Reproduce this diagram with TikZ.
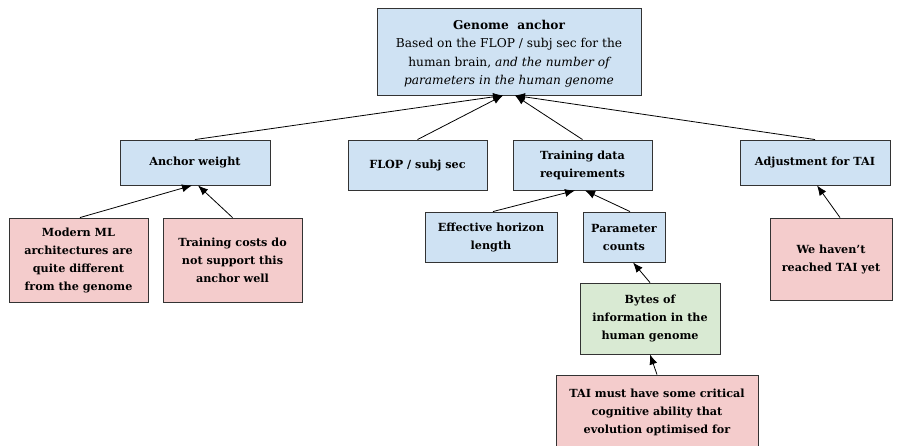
\documentclass[tikz,border=0pt]{standalone}
\usepackage{fontspec}
\setmainfont{DejaVu Serif}
\usetikzlibrary{arrows.meta}
\definecolor{boxblue}{HTML}{CFE2F3}
\definecolor{boxred}{HTML}{F4CCCC}
\definecolor{boxgreen}{HTML}{D9EAD3}
\begin{document}
\begin{tikzpicture}[x=1pt, y=-1pt,
        font=\fontsize{11.2}{18}\selectfont\bfseries,
        box/.style={draw=black!80, line width=0.9pt, align=center, inner sep=0pt},
        bluebox/.style={box, fill=boxblue},
        redbox/.style={box, fill=boxred},
        greenbox/.style={box, fill=boxgreen},
        link/.style={-{Latex[length=10pt, width=8pt]}, line width=0.8pt}]
    \useasboundingbox (0,0) rectangle (899,445);
    \clip (0,0) rectangle (899,445);
    \node[bluebox, minimum width=264pt, minimum height=87pt, font=\fontsize{12.2}{18.5}\selectfont\bfseries] (genome) at (509,51.5)
        {\rule{0pt}{14pt}Genome~~anchor\\ \mdseries Based on the FLOP / subj sec for the\\ \mdseries human brain, \itshape and the number of\\ \mdseries\itshape parameters in the human genome};
    \node[bluebox, minimum width=150pt, minimum height=45pt] (weight) at (195,162.5) {Anchor weight};
    \node[bluebox, minimum width=139pt, minimum height=50pt] (flop) at (417.5,165) {FLOP / subj sec};
    \node[bluebox, minimum width=139pt, minimum height=50pt] (data) at (582.5,165) {Training data\\requirements};
    \node[bluebox, minimum width=150pt, minimum height=45pt] (adjust) at (815,162.5) {Adjustment for TAI};
    \node[redbox, minimum width=139pt, minimum height=84pt] (modern) at (78.5,260) {Modern ML\\architectures are\\quite different\\from the genome};
    \node[redbox, minimum width=139pt, minimum height=84pt] (costs) at (232.5,260) {Training costs do\\not support this\\anchor well};
    \node[bluebox, minimum width=132pt, minimum height=50pt] (horizon) at (491,237) {Effective horizon\\length};
    \node[bluebox, minimum width=82pt, minimum height=50pt] (params) at (624,237) {Parameter\\counts};
    \node[greenbox, minimum width=140pt, minimum height=71pt] (bytes) at (650,318.5) {Bytes of\\information in the\\human genome};
    \node[redbox, minimum width=202pt, minimum height=75pt] (tai) at (657,412.5) {TAI must have some critical\\cognitive ability that\\evolution optimised for};
    \node[redbox, minimum width=122pt, minimum height=82pt] (reached) at (831,259) {We haven't\\reached TAI yet};
    \draw[link] (weight.north) -- ([xshift=-6pt]genome.south);
    \draw[link] (flop.north) -- ([xshift=-6pt]genome.south);
    \draw[link] (data.north) -- ([xshift=6pt]genome.south);
    \draw[link] (adjust.north) -- ([xshift=6pt]genome.south);
    \draw[link] ([xshift=1.5pt]modern.north) -- ([xshift=-3pt]weight.south);
    \draw[link] (costs.north) -- ([xshift=3pt]weight.south);
    \draw[link] ([xshift=2pt]horizon.north) -- ([xshift=-7.5pt]data.south);
    \draw[link] ([xshift=6pt]params.north) -- ([xshift=2.5pt]data.south);
    \draw[link] (bytes.north) -- ([xshift=9pt]params.south);
    \draw[link] (tai.north) -- (bytes.south);
    \draw[link] ([xshift=9pt]reached.north) -- ([xshift=2pt]adjust.south);
\end{tikzpicture}
\end{document}
